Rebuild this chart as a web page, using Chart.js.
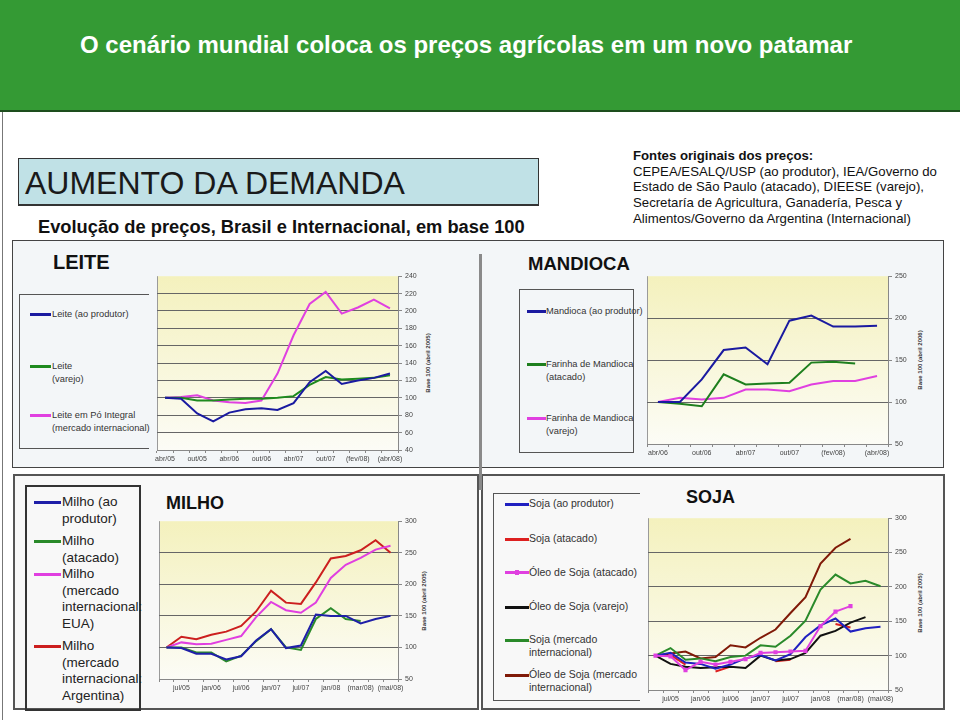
<!DOCTYPE html>
<html>
<head>
<meta charset="utf-8">
<script src="https://cdn.jsdelivr.net/npm/chart.js@4.4.1/dist/chart.umd.min.js"></script>
<style>
  body { margin: 0; width: 960px; height: 720px; position: relative; overflow: hidden; background: #fff;
         font-family: Arial, "Liberation Sans", sans-serif; color: #222; }
  .abs { position: absolute; }
  .header { left: 0; top: 0; width: 960px; height: 110px; background: #349a34; border-bottom: 2px solid #1d4d1d; }
  .header h1 { position: absolute; left: 80px; top: 31px; margin: 0; font-size: 24px; font-weight: bold; color: #fff; white-space: nowrap; }
  .demanda { left: 18px; top: 158px; width: 513px; height: 45px; background: #c0e1e6; border: 1px solid #333;
             border-bottom-width: 2px; font-size: 32px; line-height: 48px; padding-left: 6px; color: #1a1a1a; white-space: nowrap; }
  .sub { left: 38px; top: 216px; font-size: 18.3px; font-weight: bold; color: #111; white-space: nowrap; }
  .fontes { left: 633px; top: 148px; font-size: 13.2px; line-height: 15.7px; color: #111; white-space: nowrap; }
  .panel { background: #f3f6f8; border: 1px solid #444; }
  .panel2 { background: #f8f8f8; border: 2px solid #555; }
  .ttl { font-weight: bold; color: #111; white-space: nowrap; }
  .lgbox { border: 1px solid #555; }
  .ln { position: absolute; height: 3px; }
  .tx { position: absolute; color: #333; white-space: nowrap; }
  .s9 { font-size: 9.3px; line-height: 12.5px; }
  .s13 { font-size: 13.5px; line-height: 16.5px; color: #222; }
  .s10 { font-size: 10.5px; line-height: 13px; }
  .ytitle { position: absolute; font-size: 6px; font-weight: bold; color: #333; white-space: nowrap;
            transform: translate(-50%, -50%) rotate(-90deg); }
  canvas { position: absolute; }
</style>
</head>
<body>
<div class="abs header"><h1>O cenário mundial coloca os preços agrícolas em um novo patamar</h1></div>
<div class="abs" style="left:2px;top:112px;width:1px;height:608px;background:#777"></div>

<div class="abs demanda">AUMENTO DA DEMANDA</div>
<div class="abs sub">Evolução de preços, Brasil e Internacional, em base 100</div>
<div class="abs fontes"><b>Fontes originais dos preços:</b><br>CEPEA/ESALQ/USP (ao produtor), IEA/Governo do<br>Estado de São Paulo (atacado), DIEESE (varejo),<br>Secretaría de Agricultura, Ganadería, Pesca y<br>Alimentos/Governo da Argentina (Internacional)</div>

<!-- painéis -->
<div class="abs panel" style="left:12px;top:240px;width:930px;height:226px"></div>
<div class="abs panel2" style="left:13px;top:474px;width:462px;height:232px"></div>
<div class="abs panel2" style="left:481px;top:474px;width:460px;height:232px"></div>
<div class="abs" style="left:479px;top:254px;width:3px;height:236px;background:#8a8a8a"></div>

<!-- LEITE -->
<div class="abs ttl" style="left:53px;top:251px;font-size:20px">LEITE</div>
<div class="abs lgbox" style="left:19px;top:294px;width:129px;height:153px;border-right:none"></div>
<div class="ln" style="left:30px;top:313px;width:21px;background:#1a1aa0"></div>
<div class="tx s9" style="left:52px;top:308px">Leite (ao produtor)</div>
<div class="ln" style="left:30px;top:365px;width:21px;background:#1e8a1e"></div>
<div class="tx s9" style="left:52px;top:360px">Leite<br>(varejo)</div>
<div class="ln" style="left:30px;top:414px;width:21px;background:#e040e0"></div>
<div class="tx s9" style="left:52px;top:409px">Leite em Pó Integral<br>(mercado internacional)</div>
<canvas id="leite" style="left:152px;top:269px" width="268" height="195"></canvas>
<div class="ytitle" style="left:428px;top:363px">Base 100 (abril 2005)</div>

<!-- MANDIOCA -->
<div class="abs ttl" style="left:528px;top:253px;font-size:18.5px">MANDIOCA</div>
<div class="abs lgbox" style="left:519px;top:289px;width:113px;height:162px"></div>
<div class="ln" style="left:527px;top:310px;width:19px;background:#1a1aa0"></div>
<div class="tx s9" style="left:546px;top:305px">Mandioca (ao produtor)</div>
<div class="ln" style="left:527px;top:363px;width:19px;background:#1e7f1e"></div>
<div class="tx s9" style="left:546px;top:358px">Farinha de Mandioca<br>(atacado)</div>
<div class="ln" style="left:527px;top:417px;width:19px;background:#e040e0"></div>
<div class="tx s9" style="left:546px;top:412px">Farinha de Mandioca<br>(varejo)</div>
<canvas id="mandioca" style="left:642px;top:269px" width="268" height="189"></canvas>
<div class="ytitle" style="left:920px;top:360px">Base 100 (abril 2006)</div>

<!-- MILHO -->
<div class="abs ttl" style="left:166px;top:493px;font-size:18px">MILHO</div>
<div class="abs" style="left:25px;top:485px;width:112px;height:222px;border:2px solid #333"></div>
<div class="ln" style="left:34px;top:501px;width:27px;background:#1f1fa8"></div>
<div class="tx s13" style="left:62px;top:494px">Milho (ao<br>produtor)</div>
<div class="ln" style="left:34px;top:540px;width:27px;background:#2a8a2a"></div>
<div class="tx s13" style="left:62px;top:533px">Milho<br>(atacado)</div>
<div class="ln" style="left:34px;top:573px;width:27px;background:#e03fe0"></div>
<div class="tx s13" style="left:62px;top:566px">Milho<br>(mercado<br>internacional:<br>EUA)</div>
<div class="ln" style="left:34px;top:645px;width:27px;background:#cc1f1f"></div>
<div class="tx s13" style="left:62px;top:638px">Milho<br>(mercado<br>internacional:<br>Argentina)</div>
<canvas id="milho" style="left:154px;top:514px" width="266" height="179"></canvas>
<div class="ytitle" style="left:424px;top:601px">Base 100 (abril 2005)</div>

<!-- SOJA -->
<div class="abs ttl" style="left:686px;top:487px;font-size:18px">SOJA</div>
<div class="abs lgbox" style="left:493px;top:493px;width:146px;height:206px;border-right:none"></div>
<div class="ln" style="left:505px;top:503px;width:24px;background:#2020c0"></div>
<div class="tx s10" style="left:529px;top:497px">Soja (ao produtor)</div>
<div class="ln" style="left:505px;top:538px;width:24px;background:#dd2020"></div>
<div class="tx s10" style="left:529px;top:532px">Soja (atacado)</div>
<div class="ln" style="left:505px;top:571px;width:24px;background:#e040e0"></div>
<div class="abs" style="left:515px;top:570px;width:4px;height:5px;background:#e040e0"></div>
<div class="tx s10" style="left:529px;top:566px">Óleo de Soja (atacado)</div>
<div class="ln" style="left:505px;top:606px;width:24px;background:#111"></div>
<div class="tx s10" style="left:529px;top:600px">Óleo de Soja (varejo)</div>
<div class="ln" style="left:505px;top:639px;width:24px;background:#2a8a2a"></div>
<div class="tx s10" style="left:529px;top:633px">Soja (mercado<br>internacional)</div>
<div class="ln" style="left:505px;top:674px;width:24px;background:#801a08"></div>
<div class="tx s10" style="left:529px;top:668px">Óleo de Soja (mercado<br>internacional)</div>
<canvas id="soja" style="left:642px;top:511px" width="268" height="193"></canvas>
<div class="ytitle" style="left:920px;top:603px">Base 100 (abril 2005)</div>

<script>
// --- Dados (base 100) ---
const leiteLabels = ['abr/05', '', 'out/05', '', 'abr/06', '', 'out/06', '', 'abr/07', '', 'out/07', '', '(fev/08)', '', '(abr/08)'];
const leiteProdutor = [100, 99, 82, 73, 83, 87, 88, 86, 94, 118, 131, 116, 120, 123, 128];
const leiteVarejo = [100, 100, 97, 97, 98, 99, 99, 100, 102, 115, 124, 121, 122, 123, 126];
const leitePoIntegral = [100, 101, 103, 97, 95, 94, 97, 128, 172, 208, 222, 197, 204, 213, 203];

const mandiocaLabels = ['abr/06', '', 'out/06', '', 'abr/07', '', 'out/07', '', '(fev/08)', '', '(abr/08)'];
const mandiocaProdutor = [100, 100, 127, 162, 165, 145, 197, 203, 190, 190, 191];
const farinhaAtacado = [100, 98, 95, 133, 121, 122, 123, 147, 148, 146, null];
const farinhaVarejo = [100, 105, 103, 105, 115, 115, 113, 121, 125, 125, 131];

const milhoLabels = ['', 'jul/05', '', 'jan/06', '', 'jul/06', '', 'jan/07', '', 'jul/07', '', 'jan/08', '', '(mar/08)', '', '(mai/08)'];
const milhoProdutor = [100, 99, 90, 90, 81, 86, 111, 129, 99, 103, 152, 150, 150, 138, 145, 150];
const milhoAtacado = [100, 100, 92, 92, 78, 87, 110, 129, 100, 96, 145, 162, 145, 142, null, null];
const milhoEUA = [100, 108, 105, 106, 112, 118, 148, 172, 159, 155, 171, 210, 231, 242, 255, 261];
const milhoArgentina = [100, 117, 113, 120, 125, 134, 157, 190, 171, 169, 203, 241, 245, 254, 270, 250];

const sojaLabels = ['', 'jul/05', '', 'jan/06', '', 'jul/06', '', 'jan/07', '', 'jul/07', '', 'jan/08', '', '(mar/08)', '', '(mai/08)'];
const sojaProdutor = [100, 104, 90, 88, 81, 87, 96, 101, 93, 102, 127, 144, 154, 135, 140, 142];
const sojaAtacado = [100, 101, 87, null, 77, 84, null, null, 92, 94, null, null, 146, 141, null, null];
const oleoAtacado = [100, 99, 79, 91, 87, 91, 95, 104, 105, 106, 107, 143, 164, 172, null, null];
const oleoVarejo = [100, 88, 84, 82, 83, 84, 82, 100, 93, 95, 104, 129, 136, 148, 156, null];
const sojaInternacional = [100, 111, 94, 96, 92, 98, 100, 115, 113, 129, 151, 196, 218, 205, 209, 201];
const oleoInternacional = [100, 103, 106, 96, 98, 115, 112, 126, 138, 162, 185, 234, 257, 270, null, null];

// fundo amarelo degradê da área do gráfico
const plotBg = {
  id: 'plotBg',
  beforeDraw(chart) {
    const { ctx, chartArea: a } = chart;
    const g = ctx.createLinearGradient(0, a.top, 0, a.bottom);
    g.addColorStop(0, '#f4f1bd');
    g.addColorStop(1, '#fcfcf6');
    ctx.save();
    ctx.fillStyle = g;
    ctx.fillRect(a.left, a.top, a.right - a.left, a.bottom - a.top);
    ctx.strokeStyle = '#9a9a9a';
    ctx.lineWidth = 1;
    ctx.beginPath();
    ctx.moveTo(a.left + 0.5, a.top);
    ctx.lineTo(a.left + 0.5, a.bottom);
    ctx.stroke();
    ctx.restore();
  }
};

function line(data, color, extra) {
  return Object.assign({ data, borderColor: color, backgroundColor: color, borderWidth: 2,
    pointRadius: 0, tension: 0, spanGaps: false }, extra || {});
}

function makeChart(id, labels, datasets, min, max, step) {
  return new Chart(document.getElementById(id), {
    type: 'line',
    data: { labels, datasets },
    plugins: [plotBg],
    options: {
      responsive: false,
      animation: false,
      events: [],
      layout: { padding: { left: 5, top: 5, right: 0, bottom: 0 } },
      plugins: { legend: { display: false }, tooltip: { enabled: false } },
      scales: {
        x: {
          offset: true,
          ticks: { autoSkip: false, maxRotation: 0, color: '#444', font: { size: 7 }, padding: 2 },
          grid: { offset: true, drawOnChartArea: false, tickLength: 3, color: '#888' },
          border: { color: '#888' },
          afterFit: s => { s.height = 14; }
        },
        y: {
          position: 'right',
          min, max,
          ticks: { stepSize: step, color: '#444', font: { size: 7 }, padding: 3 },
          grid: {
            color: c => (c.tick && (c.tick.value === min || c.tick.value === max)) ? 'rgba(0,0,0,0)' : '#666',
            tickColor: '#888', tickLength: 4
          },
          border: { color: '#888' },
          afterFit: s => { s.width = 22; }
        }
      }
    }
  });
}

makeChart('leite', leiteLabels, [
  line(leiteProdutor, '#1a1aa0'),
  line(leiteVarejo, '#1e8a1e'),
  line(leitePoIntegral, '#e040e0')
], 40, 240, 20);

makeChart('mandioca', mandiocaLabels, [
  line(mandiocaProdutor, '#1a1aa0'),
  line(farinhaAtacado, '#1e7f1e'),
  line(farinhaVarejo, '#e040e0')
], 50, 250, 50);

makeChart('milho', milhoLabels, [
  line(milhoProdutor, '#1f1fa8'),
  line(milhoAtacado, '#2a8a2a'),
  line(milhoEUA, '#e03fe0'),
  line(milhoArgentina, '#cc1f1f')
], 50, 300, 50);

makeChart('soja', sojaLabels, [
  line(sojaProdutor, '#2020c0', { order: 2 }),
  line(sojaAtacado, '#dd2020', { order: 6 }),
  line(oleoAtacado, '#e040e0', { order: 1, pointRadius: 1.5, pointStyle: 'rect' }),
  line(oleoVarejo, '#111111', { order: 3 }),
  line(sojaInternacional, '#2a8a2a', { order: 4 }),
  line(oleoInternacional, '#801a08', { order: 5 })
], 50, 300, 50);
</script>
</body>
</html>
